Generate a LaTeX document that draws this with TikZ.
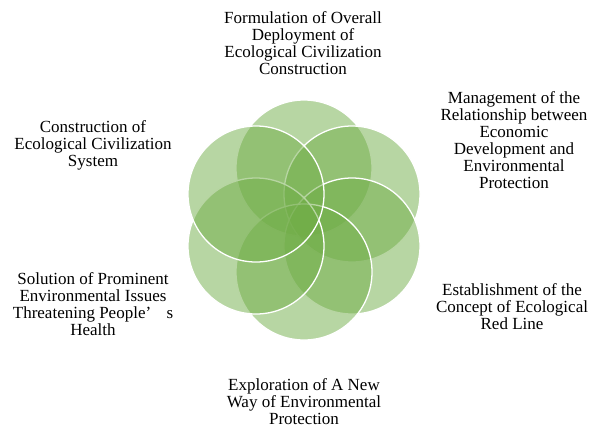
\documentclass[tikz,border=0pt]{standalone}
\usepackage{fontspec}
\setmainfont{Liberation Serif}
\begin{document}
\begin{tikzpicture}[x=1bp,y=-1bp]
\useasboundingbox (0,0) rectangle (595,432);
\definecolor{leaf}{RGB}{112,173,71}
\tikzset{
  petal/.style={circle, minimum size=136bp, inner sep=0pt, fill=leaf, fill opacity=0.5, draw=white, line width=1.3bp},
  lbl/.style={align=center, font=\fontsize{17bp}{17bp}\selectfont, inner sep=0pt}
}
% circles (drawing order as in the reference)
\node[petal] (ctop) at (304,168) {};
\node[petal] (cur)  at (352,194) {};
\node[petal] (clr)  at (352,246) {};
\node[petal] (cbot) at (304,272) {};
\node[petal] (cll)  at (256,246) {};
\node[petal] (cul)  at (256,194) {};
% labels
\node[lbl] (ltop) at (303,43) {Formulation of Overall\\Deployment of\\Ecological Civilization\\Construction};
\node[lbl] (lur) at (514,140) {Management of the\\Relationship between\\Economic\\Development and\\Environmental\\Protection};
\node[lbl] (llr) at (512,307) {Establishment of the\\Concept of Ecological\\Red Line};
\node[lbl] (lbot) at (304,402) {Exploration of A New\\Way of Environmental\\Protection};
\node[lbl] (lll) at (93,304) {Solution of Prominent\\Environmental Issues\\Threatening People’\hspace{0.9em}s\\Health};
\node[lbl] (lul) at (93,145) {Construction of\\Ecological Civilization\\System};
\end{tikzpicture}
\end{document}
